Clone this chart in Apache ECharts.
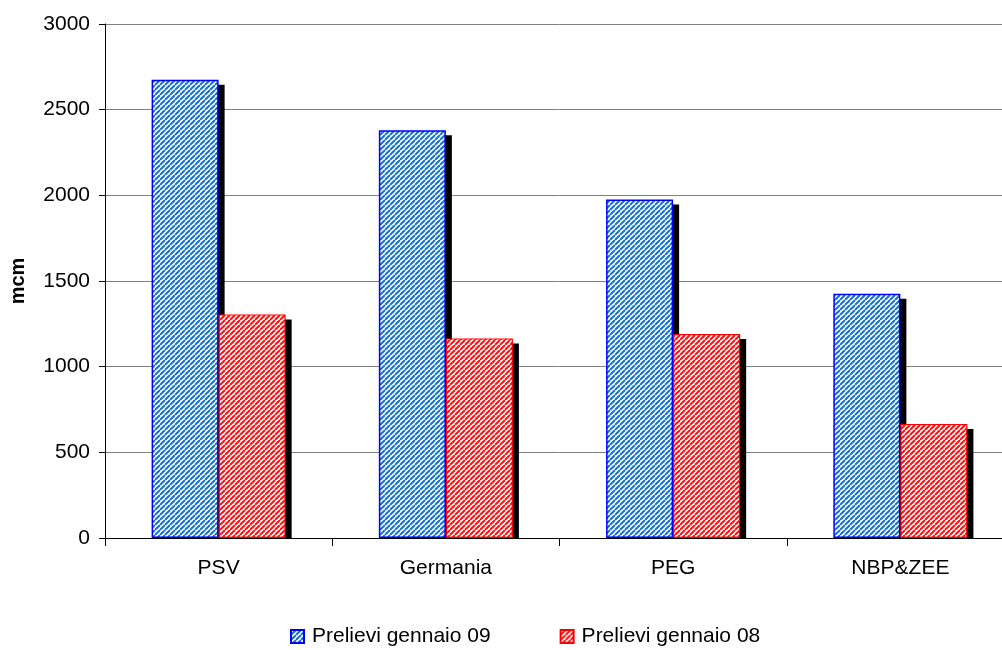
<!DOCTYPE html>
<html><head><meta charset="utf-8">
<script src="https://cdn.jsdelivr.net/npm/echarts@6/dist/echarts.min.js"></script>
<style>html,body{margin:0;padding:0;background:#fff;overflow:hidden}#wrap{width:1002px;height:650px;overflow:hidden}#c{width:1030px;height:650px}</style>
</head><body><div id="wrap"><div id="c"></div></div>
<script>
const categories = ['PSV', 'Germania', 'PEG', 'NBP&ZEE'];
const seriesNames = ['Prelievi gennaio 09', 'Prelievi gennaio 08'];
const prelievi09 = [2675, 2380, 1975, 1425];
const prelievi08 = [1305, 1165, 1190, 665];
const yTicks = [0, 500, 1000, 1500, 2000, 2500, 3000];

const CAT_GAP = 0.41;

function stripes(col) {
  const s = 5;
  const c = document.createElement('canvas');
  c.width = s; c.height = s;
  const g = c.getContext('2d');
  g.fillStyle = '#ffffff';
  g.fillRect(0, 0, s, s);
  g.strokeStyle = col;
  g.lineWidth = 2.0;
  g.beginPath();
  for (let k = -1; k <= 1; k++) {
    g.moveTo(k * s, s); g.lineTo(k * s + s, 0);
  }
  g.stroke();
  return { image: c, repeat: 'repeat' };
}
const bluePat = stripes('#1572d0');
const redPat = stripes('#ff1010');

function shadowSeries(values, idx) {
  return {
    type: 'custom', silent: true, z: 1, legendHoverLink: false,
    data: values.map((v, i) => [i, v]),
    renderItem: function (params, api) {
      const top = api.coord([api.value(0), api.value(1)]);
      const base = api.coord([api.value(0), 0]);
      const band = api.size([1, 0])[0];
      const bw = band * (1 - CAT_GAP) / 2;
      const x0 = top[0] + (idx === 0 ? -bw : 0);
      return {
        type: 'rect',
        shape: { x: x0 + 6, y: top[1] + 5, width: bw, height: base[1] - top[1] - 5 },
        style: { fill: '#000' }
      };
    }
  };
}

const chart = echarts.init(document.getElementById('c'));
const font = 'Liberation Sans, Arial, sans-serif';
chart.setOption({
  animation: false,
  textStyle: { fontFamily: font },
  grid: { left: 105, top: 24, width: 909, height: 514, containLabel: false },
  legend: {
    top: 626, left: 290, padding: 0, itemGap: 69, itemWidth: 13, itemHeight: 13,
    icon: 'rect',
    textStyle: { fontSize: 21, color: '#000', fontFamily: font, padding: [0, 0, 0, 3] },
    data: seriesNames
  },
  xAxis: {
    type: 'category', data: categories,
    axisLine: { lineStyle: { color: '#000' } },
    axisTick: { show: true, length: 8, lineStyle: { color: '#000' } },
    axisLabel: { fontSize: 21, color: '#000', margin: 20, fontFamily: font }
  },
  yAxis: {
    type: 'value', min: yTicks[0], max: yTicks[yTicks.length - 1], interval: 500,
    name: 'mcm', nameLocation: 'middle', nameGap: 77, nameRotate: 90,
    nameTextStyle: { fontSize: 20, fontWeight: 'bold', color: '#000', fontFamily: font },
    axisLine: { show: true, lineStyle: { color: '#000' } },
    axisTick: { show: true, length: 6, lineStyle: { color: '#000' } },
    axisLabel: { fontSize: 21, color: '#000', margin: 15, fontFamily: font,
      formatter: v => String(v) },
    splitLine: { lineStyle: { color: '#808080', width: 1 } }
  },
  series: [
    shadowSeries(prelievi09, 0),
    shadowSeries(prelievi08, 1),
    {
      name: seriesNames[0], type: 'bar', data: prelievi09, z: 3,
      barGap: '0%', barCategoryGap: (CAT_GAP * 100) + '%',
      itemStyle: { color: bluePat, borderColor: '#0000ff', borderWidth: 1.5 }
    },
    {
      name: seriesNames[1], type: 'bar', data: prelievi08, z: 3,
      barGap: '0%', barCategoryGap: (CAT_GAP * 100) + '%',
      itemStyle: { color: redPat, borderColor: '#ff0000', borderWidth: 1.2 }
    }
  ]
});
</script></body></html>
